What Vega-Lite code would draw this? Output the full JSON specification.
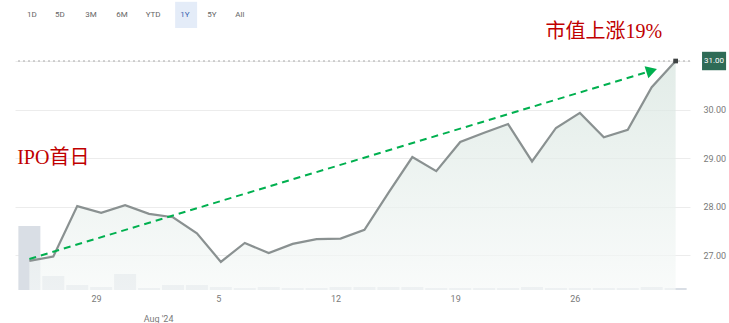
{
  "$schema": "https://vega.github.io/schema/vega-lite/v6.json",
  "width": 675,
  "height": 245,
  "autosize": {"type": "none"},
  "padding": {"left": 15, "top": 45, "right": 39, "bottom": 33},
  "background": "white",
  "config": {
    "view": {"stroke": null},
    "axis": {"labelFont": "Roboto", "labelColor": "#7a7a7a", "labelFontSize": 9, "domain": false, "ticks": false, "title": null},
    "axisY": {"gridColor": "#ececec"},
    "axisX": {"grid": false}
  },
  "datasets": {
    "px": [
      {"date": "2024-07-24", "price": 26.88, "volume": 6.4},
      {"date": "2024-07-25", "price": 26.97, "volume": 1.4},
      {"date": "2024-07-26", "price": 28.01, "volume": 0.5},
      {"date": "2024-07-29", "price": 27.87, "volume": 0.3},
      {"date": "2024-07-30", "price": 28.03, "volume": 1.6},
      {"date": "2024-07-31", "price": 27.85, "volume": 0.2},
      {"date": "2024-08-01", "price": 27.78, "volume": 0.5},
      {"date": "2024-08-02", "price": 27.45, "volume": 0.5},
      {"date": "2024-08-05", "price": 26.86, "volume": 0.3},
      {"date": "2024-08-06", "price": 27.25, "volume": 0.2},
      {"date": "2024-08-07", "price": 27.04, "volume": 0.3},
      {"date": "2024-08-08", "price": 27.23, "volume": 0.2},
      {"date": "2024-08-09", "price": 27.33, "volume": 0.2},
      {"date": "2024-08-12", "price": 27.34, "volume": 0.3},
      {"date": "2024-08-13", "price": 27.52, "volume": 0.3},
      {"date": "2024-08-14", "price": 28.28, "volume": 0.3},
      {"date": "2024-08-15", "price": 29.02, "volume": 0.3},
      {"date": "2024-08-16", "price": 28.73, "volume": 0.2},
      {"date": "2024-08-19", "price": 29.33, "volume": 0.2},
      {"date": "2024-08-20", "price": 29.52, "volume": 0.2},
      {"date": "2024-08-21", "price": 29.70, "volume": 0.2},
      {"date": "2024-08-22", "price": 28.93, "volume": 0.3},
      {"date": "2024-08-23", "price": 29.62, "volume": 0.2},
      {"date": "2024-08-26", "price": 29.93, "volume": 0.2},
      {"date": "2024-08-27", "price": 29.43, "volume": 0.2},
      {"date": "2024-08-28", "price": 29.58, "volume": 0.2},
      {"date": "2024-08-29", "price": 30.46, "volume": 0.3},
      {"date": "2024-08-30", "price": 31.00, "volume": 0.2}
    ],
    "arrow": [{"date": "2024-07-24", "price": 26.92, "date2": "2024-08-29", "price2": 30.8}],
    "notes": [
      {"date": "2024-08-27", "price": 31.6, "label": "市值上涨19%"},
      {"date": "2024-07-25", "price": 29.0, "label": "IPO首日"}
    ],
    "buttons": [
      {"label": "1D", "pos": 1.0, "level": 31.95, "active": false},
      {"label": "5D", "pos": 1.94, "level": 31.95, "active": false},
      {"label": "3M", "pos": 2.99, "level": 31.95, "active": false},
      {"label": "6M", "pos": 4.03, "level": 31.95, "active": false},
      {"label": "YTD", "pos": 5.08, "level": 31.95, "active": false},
      {"label": "1Y", "pos": 6.15, "level": 31.95, "active": true},
      {"label": "5Y", "pos": 7.06, "level": 31.95, "active": false},
      {"label": "All", "pos": 8.0, "level": 31.95, "active": false}
    ],
    "highlight": [{"x": 5.82, "x2": 6.56, "y": 32.22, "y2": 31.68}],
    "tag": [{"x": 23.56, "x2": 24.37, "y": 31.19, "y2": 30.81, "xc": 23.965, "price": 31.0, "label": "31.00"}]
  },
  "resolve": {"scale": {"x": "independent", "y": "independent"}},
  "layer": [
    {
      "resolve": {"scale": {"y": "independent"}},
      "layer": [
        {
          "data": {"name": "px"},
          "mark": {"type": "bar", "color": "#d9dee5", "size": 22},
          "encoding": {
            "x": {"field": "date", "type": "ordinal", "title": null, "scale": {"type": "point", "padding": 0.6}},
            "y": {"field": "volume", "type": "quantitative", "scale": {"domain": [0, 24.5], "nice": false}, "axis": null}
          }
        },
        {
          "layer": [
            {
              "data": {"name": "px"},
              "mark": {
                "type": "area",
                "opacity": 0.7,
                "color": {
                  "gradient": "linear", "x1": 0, "y1": 0, "x2": 0, "y2": 1,
                  "stops": [{"offset": 0, "color": "#d6e4de"}, {"offset": 1, "color": "#f6f9f8"}]
                }
              },
              "encoding": {
                "x": {
                  "field": "date", "type": "ordinal", "title": null,
                  "scale": {"type": "point", "padding": 0.6},
                  "axis": {
                    "title": null, "domain": false, "ticks": false, "labelAngle": 0, "grid": false,
                    "labelPadding": 8, "labelOverlap": false, "labelLineHeight": 20,
                    "labelExpr": "datum.value == '2024-07-29' ? '29' : datum.value == '2024-08-05' ? '5' : datum.value == '2024-08-12' ? '12' : datum.value == '2024-08-19' ? '19' : datum.value == '2024-08-26' ? '26' : datum.value == '2024-08-01' ? ['', \"Aug '24\"] : ''"
                  }
                },
                "y": {
                  "field": "price", "type": "quantitative", "title": null,
                  "scale": {"domain": [26.28, 31.33], "nice": false, "zero": false},
                  "axis": {
                    "orient": "right", "title": null, "domain": false, "ticks": false,
                    "values": [27, 28, 29, 30, 31], "format": ".2f", "labelPadding": 13,
                    "grid": true, "gridColor": "#ececec",
                    "labelExpr": "datum.value == 31 ? '' : format(datum.value, '.2f')"
                  }
                },
                "y2": {"datum": 26.28}
              }
            },
            {
              "data": {"name": "px"},
              "mark": {"type": "line", "color": "#8a9191", "strokeWidth": 2.2},
              "encoding": {
                "x": {"field": "date", "type": "ordinal", "title": null},
                "y": {"field": "price", "type": "quantitative", "title": null}
              }
            },
            {
              "data": {"values": [{}]},
              "mark": {"type": "rule", "color": "#a9a9a9", "strokeDash": [2, 3], "strokeWidth": 1.2},
              "encoding": {"y": {"datum": 31, "type": "quantitative", "title": null}}
            },
            {
              "data": {"name": "px"},
              "transform": [{"filter": "datum.date == '2024-08-30'"}],
              "mark": {"type": "square", "color": "#3f4444", "size": 22, "opacity": 1},
              "encoding": {
                "x": {"field": "date", "type": "ordinal", "title": null},
                "y": {"field": "price", "type": "quantitative", "title": null}
              }
            },
            {
              "data": {"name": "arrow"},
              "mark": {"type": "rule", "color": "#00b04f", "strokeWidth": 2, "strokeDash": [7, 5]},
              "encoding": {
                "x": {"field": "date", "type": "ordinal", "title": null},
                "y": {"field": "price", "type": "quantitative", "title": null},
                "x2": {"field": "date2"},
                "y2": {"field": "price2"}
              }
            },
            {
              "data": {"name": "arrow"},
              "mark": {"type": "point", "shape": "triangle-up", "filled": true, "color": "#00b04f", "size": 160, "angle": 73, "opacity": 1},
              "encoding": {
                "x": {"field": "date2", "type": "ordinal", "title": null},
                "y": {"field": "price2", "type": "quantitative", "title": null}
              }
            },
            {
              "data": {"name": "notes"},
              "mark": {"type": "text", "color": "#c00000", "fontSize": 20, "font": "Liberation Serif, Noto Sans CJK SC", "align": "center", "baseline": "middle"},
              "encoding": {
                "x": {"field": "date", "type": "ordinal", "title": null},
                "y": {"field": "price", "type": "quantitative", "title": null},
                "text": {"field": "label"}
              }
            }
          ]
        }
      ]
    },
    {
      "layer": [
        {
          "data": {"name": "highlight"},
          "mark": {"type": "rect", "color": "#e4ecf8"},
          "encoding": {
            "x": {"field": "x", "type": "quantitative", "scale": {"domain": [0.428, 23.155], "nice": false, "zero": false}, "axis": null},
            "x2": {"field": "x2"},
            "y": {"field": "y", "type": "quantitative", "scale": {"domain": [26.28, 31.33], "nice": false, "zero": false}, "axis": null},
            "y2": {"field": "y2"}
          }
        },
        {
          "data": {"name": "buttons"},
          "mark": {"type": "text", "fontSize": 8, "font": "Roboto", "align": "center", "baseline": "middle"},
          "encoding": {
            "x": {"field": "pos", "type": "quantitative", "scale": {"domain": [0.428, 23.155], "nice": false, "zero": false}, "axis": null},
            "y": {"field": "level", "type": "quantitative", "scale": {"domain": [26.28, 31.33], "nice": false, "zero": false}, "axis": null},
            "text": {"field": "label"},
            "color": {"field": "active", "type": "nominal", "scale": {"domain": [false, true], "range": ["#666666", "#3a64b0"]}, "legend": null}
          }
        },
        {
          "data": {"name": "tag"},
          "mark": {"type": "rect", "color": "#2e6b56"},
          "encoding": {
            "x": {"field": "x", "type": "quantitative", "scale": {"domain": [0.428, 23.155], "nice": false, "zero": false}, "axis": null},
            "x2": {"field": "x2"},
            "y": {"field": "y", "type": "quantitative", "scale": {"domain": [26.28, 31.33], "nice": false, "zero": false}, "axis": null},
            "y2": {"field": "y2"}
          }
        },
        {
          "data": {"name": "tag"},
          "mark": {"type": "text", "color": "white", "fontSize": 8, "font": "Roboto", "align": "center", "baseline": "middle"},
          "encoding": {
            "x": {"field": "xc", "type": "quantitative", "scale": {"domain": [0.428, 23.155], "nice": false, "zero": false}, "axis": null},
            "y": {"field": "price", "type": "quantitative", "scale": {"domain": [26.28, 31.33], "nice": false, "zero": false}, "axis": null},
            "text": {"field": "label"}
          }
        }
      ]
    }
  ]
}
